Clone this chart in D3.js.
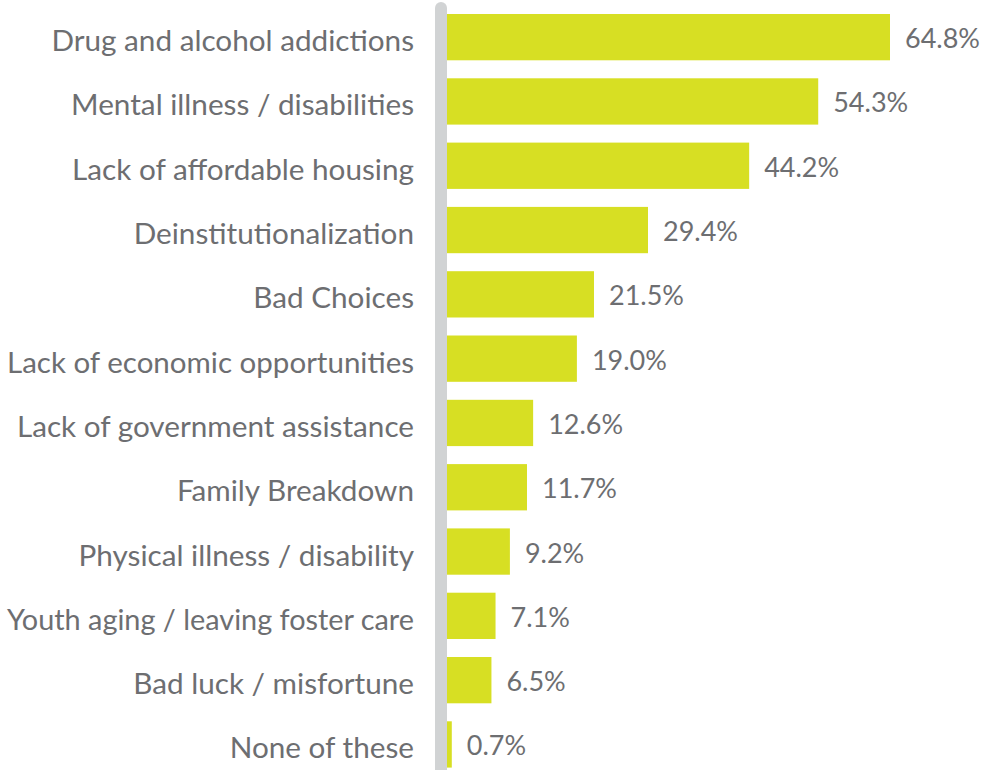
<!DOCTYPE html>
<html>
<head>
<meta charset="utf-8">
<script src="https://cdn.jsdelivr.net/npm/d3@7"></script>
<style>
  body { margin: 0; background: #fff; }
</style>
</head>
<body>
<div id="chart"></div>
<script>
var categories = ["Drug and alcohol addictions", "Mental illness / disabilities", "Lack of affordable housing",
  "Deinstitutionalization", "Bad Choices", "Lack of economic opportunities", "Lack of government assistance",
  "Family Breakdown", "Physical illness / disability", "Youth aging / leaving foster care",
  "Bad luck / misfortune", "None of these"];
var values = [64.8, 54.3, 44.2, 29.4, 21.5, 19.0, 12.6, 11.7, 9.2, 7.1, 6.5, 0.7];

var width = 984, height = 770;
var margin = {top: 5, right: 94, bottom: 0, left: 447};

var svg = d3.select("#chart")
  .append("svg")
    .attr("width", width)
    .attr("height", height);

var data = categories.map(function(c, i) { return {cat: c, val: values[i]}; });

var x = d3.scaleLinear()
  .domain([0, 64.8])
  .range([margin.left, 890]);

var y = d3.scaleBand()
  .domain(categories)
  .range([margin.top, margin.top + 64.3 * 12])
  .paddingInner(0.28)
  .paddingOuter(0.14);

// bars
svg.selectAll("rect.bar")
  .data(data)
  .enter()
  .append("rect")
    .attr("class", "bar")
    .attr("x", x(0))
    .attr("y", function(d) { return y(d.cat); })
    .attr("width", function(d) { return x(d.val) - x(0); })
    .attr("height", y.bandwidth())
    .attr("fill", "#d7df23");

// vertical axis line
svg.append("line")
  .attr("x1", 441)
  .attr("x2", 441)
  .attr("y1", 8)
  .attr("y2", 790)
  .attr("stroke", "#d1d3d4")
  .attr("stroke-width", 12)
  .attr("stroke-linecap", "round");

// category labels
svg.selectAll("text.cat")
  .data(data)
  .enter()
  .append("text")
    .attr("class", "cat")
    .attr("x", 414)
    .attr("y", function(d) { return y(d.cat) + y.bandwidth() / 2 + 14; })
    .attr("text-anchor", "end")
    .style("font-family", "Lato, sans-serif")
    .style("font-size", "29.7px")
    .style("fill", "#6d6e71")
    .text(function(d) { return d.cat; })
    .each(function() {
      // squeeze labels that would run off the left edge
      if (this.getComputedTextLength() > 407) {
        d3.select(this).attr("textLength", 407).attr("lengthAdjust", "spacingAndGlyphs");
      }
    });

// value labels
svg.selectAll("text.val")
  .data(data)
  .enter()
  .append("text")
    .attr("class", "val")
    .attr("x", function(d) { return x(d.val) + 15; })
    .attr("y", function(d) { return y(d.cat) + y.bandwidth() / 2 + 11; })
    .style("font-family", "Lato, sans-serif")
    .style("font-size", "27px")
    .style("fill", "#6d6e71")
    .text(function(d) { return d.val.toFixed(1) + "%"; });
</script>
</body>
</html>
